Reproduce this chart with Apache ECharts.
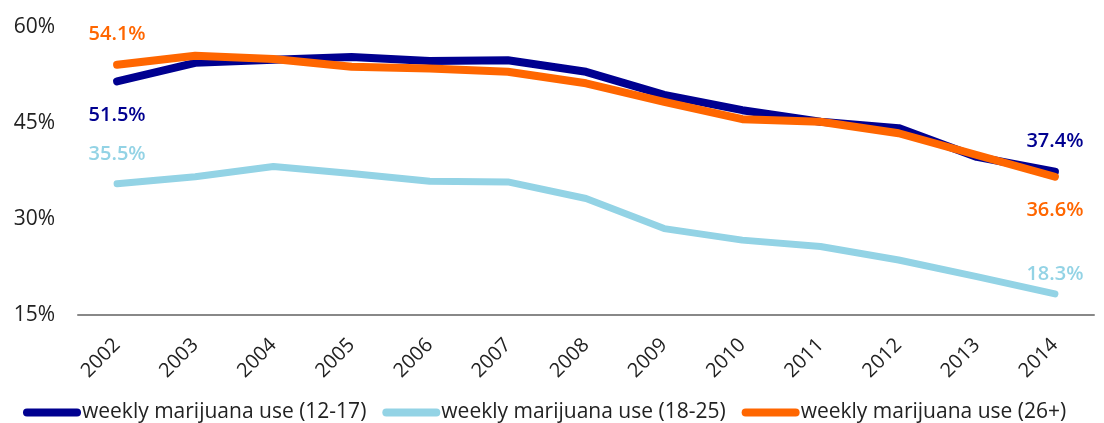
<!DOCTYPE html>
<html>
<head>
<meta charset="utf-8">
<script src="https://cdn.jsdelivr.net/npm/echarts@6/dist/echarts.min.js"></script>
<style>
  html, body { margin: 0; padding: 0; background: #fff; }
  #main { width: 1104px; height: 423px; }
</style>
</head>
<body>
<div id="main"></div>
<script>
var years = ['2002', '2003', '2004', '2005', '2006', '2007', '2008', '2009', '2010', '2011', '2012', '2013', '2014'];
var youth = [51.5, 54.4, 54.9, 55.3, 54.7, 54.8, 53.0, 49.4, 47.0, 45.2, 44.2, 39.7, 37.4];
var young = [35.5, 36.6, 38.2, 37.1, 35.9, 35.8, 33.2, 28.5, 26.7, 25.7, 23.6, 21.0, 18.3];
var adult = [54.1, 55.5, 55.0, 53.8, 53.5, 53.0, 51.2, 48.3, 45.6, 45.2, 43.4, 40.0, 36.6];
var yTicks = [15, 30, 45, 60];

var font = '"Open Sans", "Noto Sans", sans-serif';

// label only the first and last point of each line
function withEnds(values, color, first, last){
    return values.map(function(v, i){
        var item = { value: v };
        if(i === 0 || i === values.length - 1){
            var cfg = i === 0 ? first : last;
            item.label = {
                show: true,
                position: cfg.pos,
                distance: cfg.dist,
                color: color,
                fontFamily: font,
                fontSize: 20,
                fontWeight: 600,
                formatter: function(p){ return p.value.toFixed(1) + '%'; }
            };
        }
        return item;
    });
}

var legendIcon = 'path://M4,0 H54 A4,4 0 0 1 54,8 H4 A4,4 0 0 1 4,0 Z';

function lineSeries(name, color, width, data){
    return {
        name: name,
        type: 'line',
        data: data,
        symbol: 'circle',
        symbolSize: 0,
        showSymbol: true,
        itemStyle: { color: color },
        lineStyle: { color: color, width: width, cap: 'round', join: 'round' },
        emphasis: { disabled: true },
        animation: false
    };
}

var chart = echarts.init(document.getElementById('main'));

chart.setOption({
    backgroundColor: '#fff',
    grid: { left: 78, right: 10, top: 27, bottom: 108 },
    legend: {
        top: 397,
        left: 18,
        icon: legendIcon,
        itemWidth: 58,
        itemHeight: 8,
        itemGap: 16,
        textStyle: { fontFamily: font, fontSize: 21, color: '#222', padding: [0, 0, 0, -4] },
        data: ['weekly marijuana use (12-17)', 'weekly marijuana use (18-25)', 'weekly marijuana use (26+)']
    },
    xAxis: {
        type: 'category',
        data: years,
        boundaryGap: true,
        axisLine: { lineStyle: { color: '#888', width: 2 } },
        axisTick: { show: false },
        axisLabel: { rotate: 45, fontFamily: font, fontSize: 20, color: '#222', margin: 27 }
    },
    yAxis: {
        type: 'value',
        min: yTicks[0],
        max: yTicks[yTicks.length - 1],
        interval: 15,
        axisLine: { show: false },
        axisTick: { show: false },
        splitLine: { show: false },
        axisLabel: { fontFamily: font, fontSize: 21, color: '#222', margin: 23, formatter: '{value}%' }
    },
    series: [
        lineSeries('weekly marijuana use (12-17)', '#000090', 8,
            withEnds(youth, '#000090', { pos: 'bottom', dist: 24 }, { pos: 'top', dist: 20 })),
        lineSeries('weekly marijuana use (18-25)', '#93D3E5', 7,
            withEnds(young, '#93D3E5', { pos: 'top', dist: 20 }, { pos: 'top', dist: 10 })),
        lineSeries('weekly marijuana use (26+)', '#FF6600', 8,
            withEnds(adult, '#FF6600', { pos: 'top', dist: 20 }, { pos: 'bottom', dist: 24 }))
    ]
});
</script>
</body>
</html>
